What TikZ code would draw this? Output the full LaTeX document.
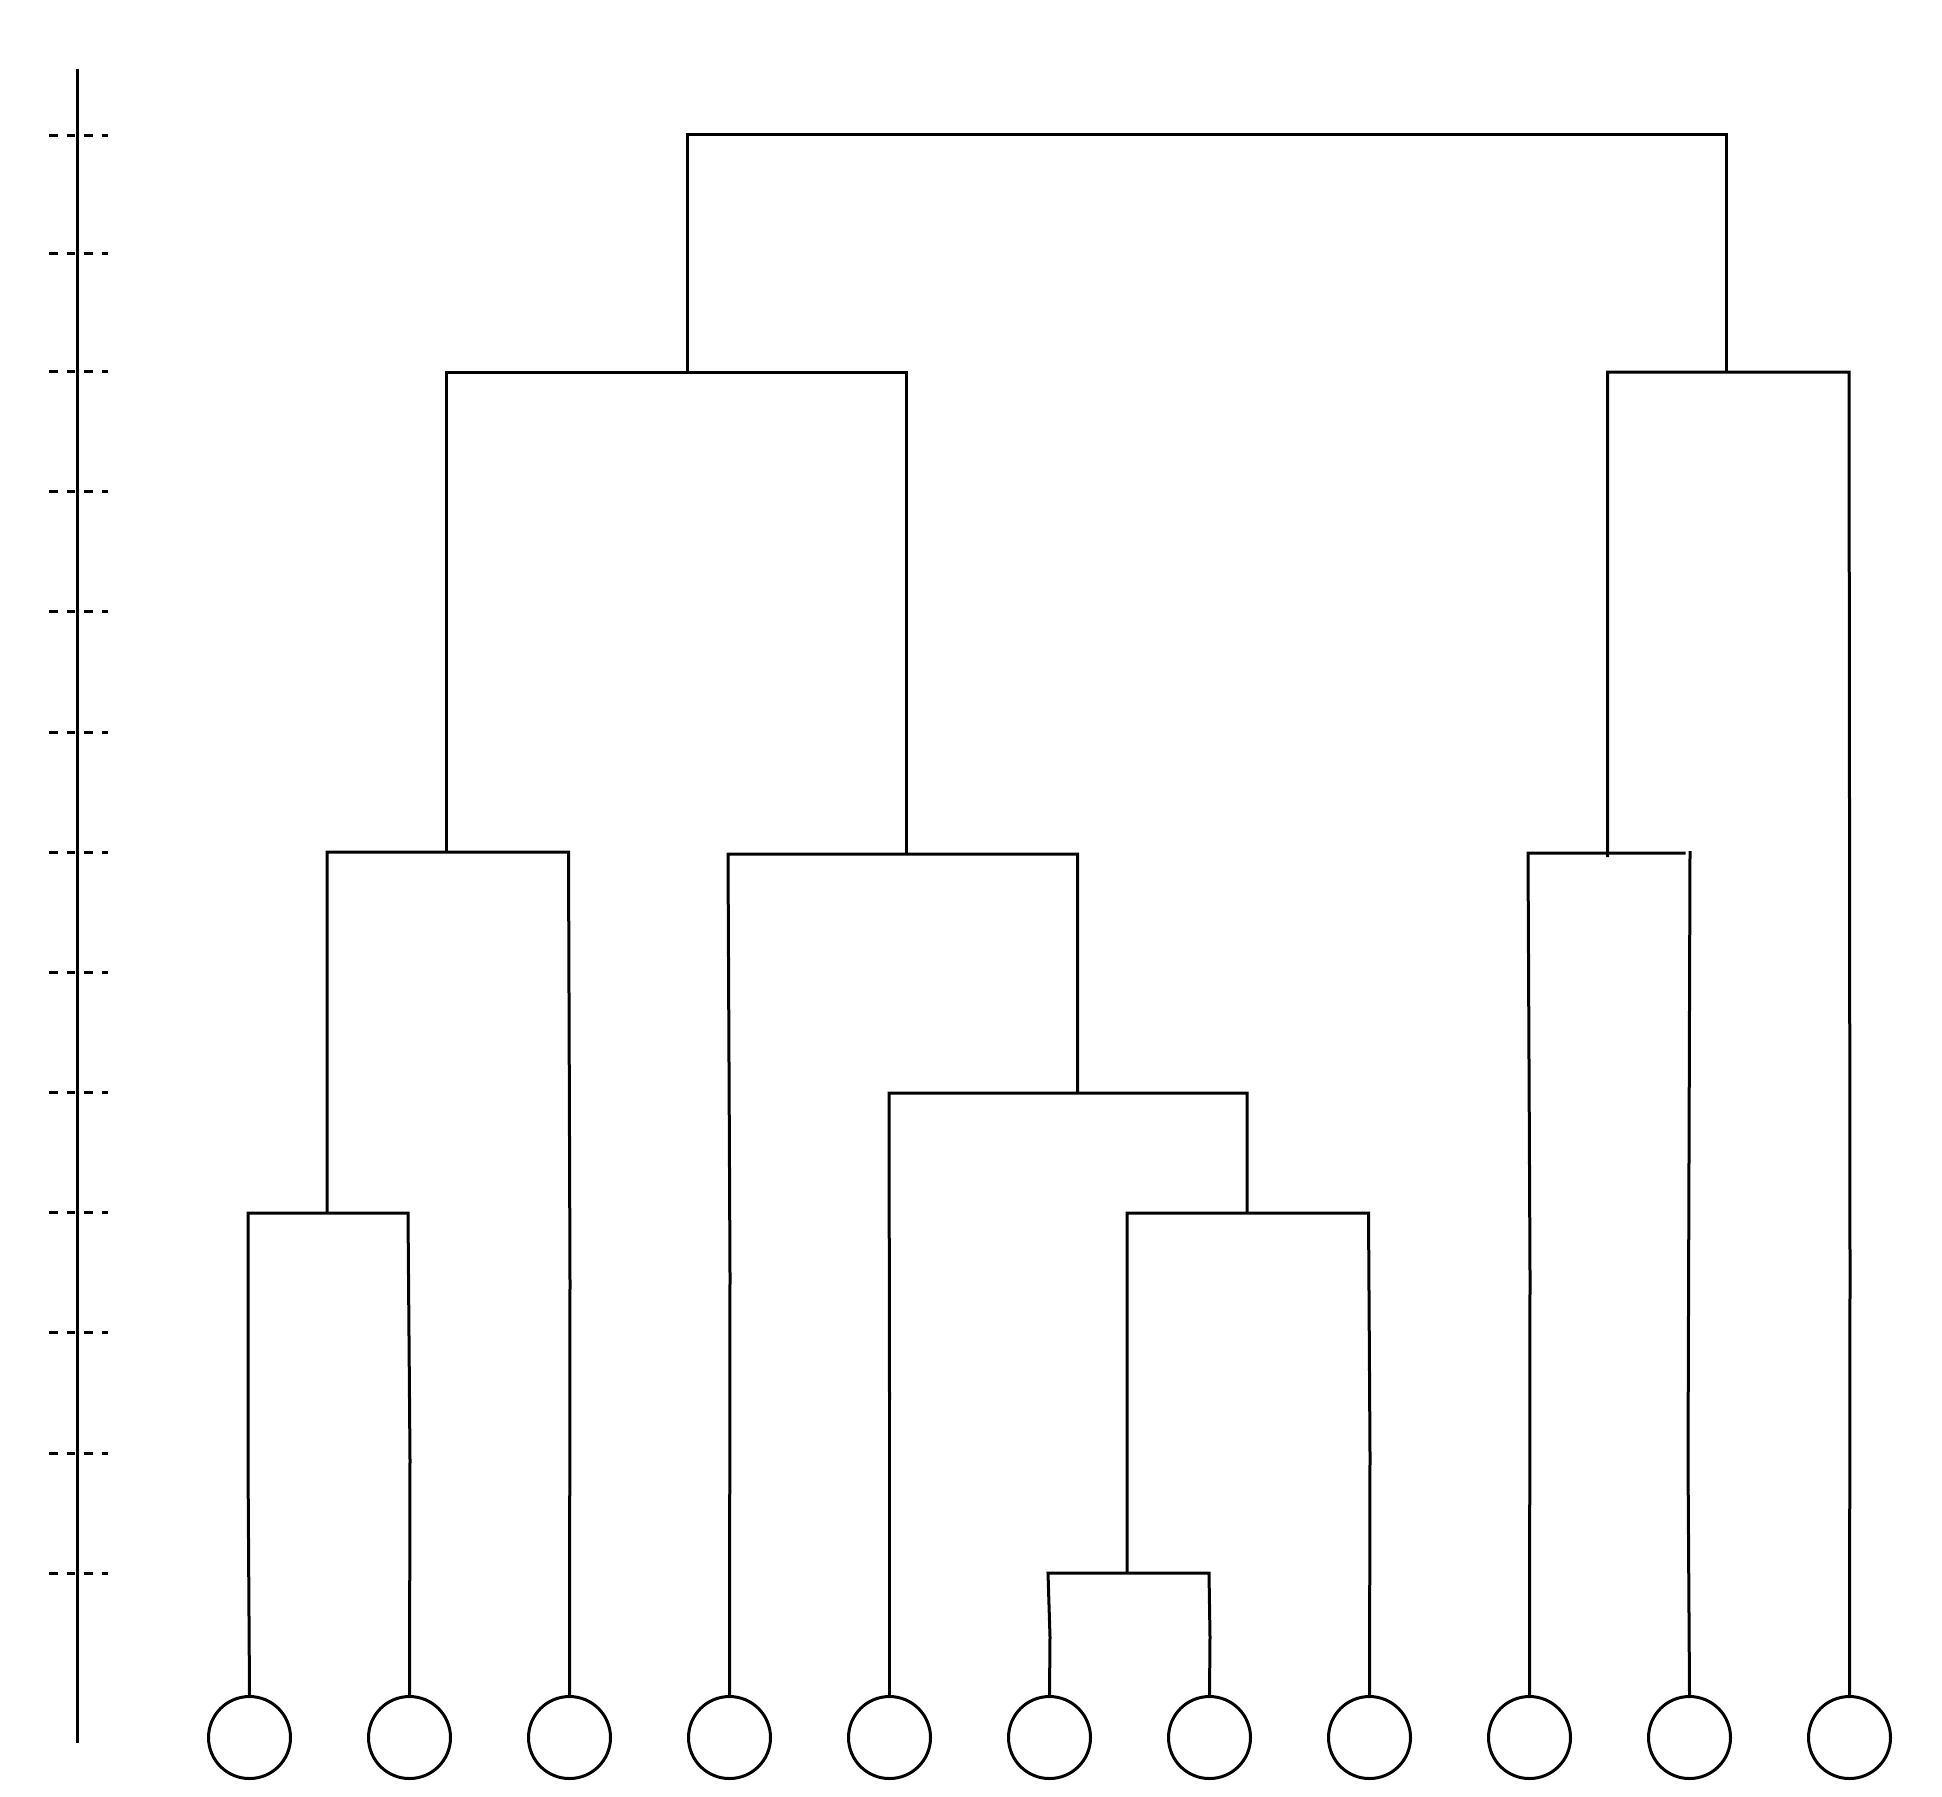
\documentclass[tikz,border=0pt]{standalone}
\begin{document}
\begin{tikzpicture}[x=0.5pt,y=-0.5pt,line width=1.5pt,
  leaf/.style={draw,circle,minimum size=41pt,inner sep=0pt,line width=1.5pt},
  tick/.style={dash pattern=on 4.4pt off 4.35pt,line width=1.5pt},
  branch/.style={line width=1.5pt,line join=miter}]
\useasboundingbox (0,0) rectangle (1942,1796);
% axis
\coordinate (axtop) at (77,69);
\coordinate (axbot) at (77,1743);
\draw (axtop) -- (axbot);
\foreach \k/\y in {0/135.7,1/253.7,2/371.6,3/491.8,4/611.9,5/732.1,6/852.2,7/972.4,8/1092.5,9/1212.7,10/1332.8,11/1453.0,12/1573.1}{
  \coordinate (t\k a) at (49,\y);
  \coordinate (t\k b) at (108,\y);
  \draw[tick] (t\k a) -- (t\k b);
}
% leaves
\foreach \i/\x in {1/249.5,2/409.5,3/569.5,4/729.5,5/889.5,6/1049.5,7/1209.5,8/1369.5,9/1529.5,10/1689.5,11/1849.5}{
  \node[leaf] (l\i) at (\x,1737.5) {};
}
% internal junctions
\coordinate (rootL) at (687,134);
\coordinate (rootR) at (1726.5,134);
\coordinate (aL) at (446,372);
\coordinate (aR) at (906.5,372);
\coordinate (bL) at (1607.5,372);
\coordinate (bR) at (1849,372);
\coordinate (cL) at (327,852);
\coordinate (cR) at (568.5,852);
\coordinate (dL) at (248,1213);
\coordinate (dR) at (408,1213);
\coordinate (eL) at (728,854);
\coordinate (eR) at (1077.5,854);
\coordinate (fL) at (889,1093);
\coordinate (fR) at (1247,1093);
\coordinate (gL) at (1127,1213);
\coordinate (gR) at (1368.5,1213);
\coordinate (hL) at (1048,1573);
\coordinate (hR) at (1209,1573);
\coordinate (kL) at (1528,853);
\coordinate (kR) at (1685.5,853);
\coordinate (kV) at (1690,851);
% root
\draw[branch] (aL -| rootL) -- (rootL) -- (rootR) -- (bR -| rootR);
% level 2
\draw[branch] (aL |- cR) -- (aL) -- (aR) -- (eL -| aR);
\draw[branch] (1607.5,857) -- (bL) -- (bR) -- (1850,1275) -- (l11.north);
% left cluster
\draw[branch] (dL -| cL) -- (cL) -- (cR) -- (570,1282) -- (l3.north);
\draw[branch] (248,1460) -- (dL) -- (dR) -- (410,1460) -- (l2.north);
\draw[branch] (248,1460) -- (l1.north);
% middle cluster
\draw[branch] (730,1275) -- (eL) -- (eR) -- (fL -| eR);
\draw[branch] (730,1275) -- (l4.north);
\draw[branch] (889.5,1400) -- (fL) -- (fR) -- (gL -| fR);
\draw[branch] (889.5,1400) -- (l5.north);
\draw[branch] (hL -| gL) -- (gL) -- (gR) -- (1370,1455) -- (l8.north);
\draw[branch] (1050,1637) -- (hL) -- (hR) -- (1210,1637) -- (l7.north);
\draw[branch] (1050,1637) -- (l6.north);
% right cluster
\draw[branch] (1530,1275) -- (kL) -- (kR);
\draw[branch] (1530,1275) -- (l9.north);
\draw[branch] (kV) -- (1688,1460) -- (l10.north);
\end{tikzpicture}
\end{document}
